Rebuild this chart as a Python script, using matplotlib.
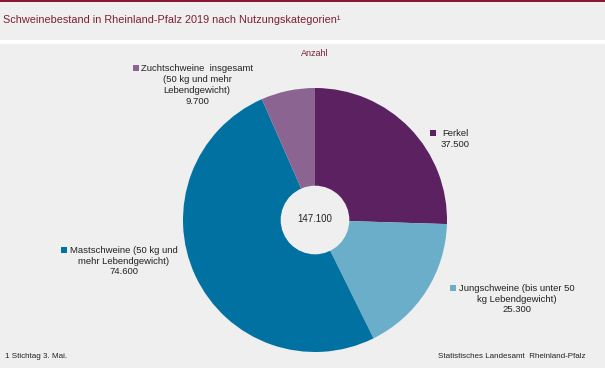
import matplotlib
matplotlib.use('Agg')
import matplotlib.pyplot as plt
from matplotlib.patches import Rectangle, Circle

plt.rcParams['font.family'] = ['Liberation Sans', 'DejaVu Sans']

# Daten
kategorien = ['Ferkel', 'Jungschweine (bis unter 50\nkg Lebendgewicht)',
              'Mastschweine (50 kg und\nmehr Lebendgewicht)',
              'Zuchtschweine  insgesamt\n(50 kg und mehr\nLebendgewicht)']
werte = [37500, 25300, 74600, 9700]
farben = ['#5c2160', '#6aaec9', '#0071a0', '#8c6492']
gesamt = '147.100'

bg = '#eeefee'
rot = '#7d1f36'
txt = '#222222'

W, H = 605, 368
fig = plt.figure(figsize=(W / 100, H / 100), dpi=100)
fig.patch.set_facecolor('white')

# Hintergrundflaechen
fig.patches.append(Rectangle((0, (H - 40) / H), 1, 40 / H, transform=fig.transFigure,
                             facecolor=bg, edgecolor='none', zorder=-2))
fig.patches.append(Rectangle((0, (H - 2) / H), 1, 2 / H, transform=fig.transFigure,
                             facecolor='#8b1a30', edgecolor='none', zorder=-1))
fig.patches.append(Rectangle((0, 0), 1, (H - 44) / H, transform=fig.transFigure,
                             facecolor=bg, edgecolor='none', zorder=-2))


def px(x, y):
    return x / W, 1 - y / H


fig.text(*px(3, 20), 'Schweinebestand in Rheinland-Pfalz 2019 nach Nutzungskategorien\u00b9',
         color=rot, fontsize=7.8, va='center', ha='left')
fig.text(*px(315, 54), 'Anzahl', color=rot, fontsize=6.5, va='center', ha='center')

# Kreis
cx, cy, r = 315, 220, 132
ax = fig.add_axes([(cx - r) / W, 1 - (cy + r) / H, 2 * r / W, 2 * r / H])
ax.set_zorder(1)
ax.pie(werte, colors=farben, startangle=90, counterclock=False, radius=1,
       wedgeprops=dict(linewidth=0))
ax.add_patch(Circle((0, 0), 0.26, facecolor=bg, edgecolor='none', zorder=5))
ax.text(0, 0.01, gesamt, ha='center', va='center', fontsize=7, color=txt, zorder=6)
ax.set_xlim(-1, 1)
ax.set_ylim(-1, 1)
ax.set_aspect('equal')
ax.axis('off')

# Beschriftungen
labels = [
    (kategorien[0] + '\n37.500', 455, 139, (433, 133)),
    (kategorien[1] + '\n25.300', 517, 299, (453, 288)),
    (kategorien[2] + '\n74.600', 124, 261, (64, 250)),
    (kategorien[3] + '\n9.700', 197, 85, (136, 68)),
]
for (t, x, y, m), f in zip(labels, farben):
    fig.text(*px(x, y), t, ha='center', va='center', multialignment='center',
             fontsize=6.8, color=txt, linespacing=1.25, zorder=3)
    fig.patches.append(Rectangle(px(m[0] - 3, m[1] + 3), 6 / W, 6 / H,
                                 transform=fig.transFigure, facecolor=f,
                                 edgecolor='none', zorder=3))

fig.text(*px(5, 357), '1 Stichtag 3. Mai.', fontsize=5.8, color=txt, va='center', ha='left')
fig.text(*px(585, 357), 'Statistisches Landesamt  Rheinland-Pfalz', fontsize=5.8, color=txt,
         va='center', ha='right')

fig.savefig('out.png', dpi=100, facecolor=fig.get_facecolor())
